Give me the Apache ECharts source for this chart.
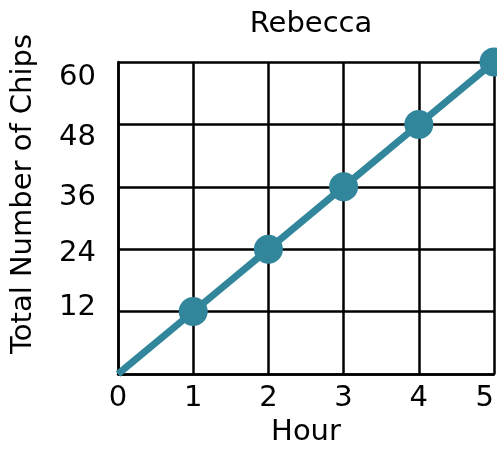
<!DOCTYPE html>
<html>
<head>
<meta charset="utf-8">
<script src="https://cdn.jsdelivr.net/npm/echarts@6/dist/echarts.min.js"></script>
<style>
  html, body { margin: 0; padding: 0; background: #fff; }
  #chart { width: 497px; height: 449px; }
</style>
</head>
<body>
<div id="chart"></div>
<script>
var hours = [0, 1, 2, 3, 4, 5];
var chips = [0, 12, 24, 36, 48, 60];
var yTicks = [12, 24, 36, 48, 60];

var myChart = echarts.init(document.getElementById('chart'));
var font = 'DejaVu Sans';

var points = hours.map(function (h, i) {
    return {
        value: [h, chips[i]],
        // no dot at the origin
        symbolSize: i === 0 ? 0 : 29
    };
});

// the y labels in the picture do not sit exactly on their grid lines
var yLabelShift = { 12: 'u4', 24: 'd4', 36: 'd11', 48: 'd13', 60: 'd15' };

function richPad(p) {
    return { fontFamily: font, fontSize: 29, color: '#000', padding: p };
}

var option = {
    animation: false,
    title: {
        text: 'Rebecca',
        left: 306,
        top: 5,
        textAlign: 'center',
        textStyle: { fontFamily: font, fontSize: 29, fontWeight: 'normal', color: '#000' }
    },
    grid: { left: 118, right: 3, top: 62, bottom: 75, outerBoundsMode: 'none' },
    xAxis: {
        type: 'value',
        min: 0,
        max: 5,
        interval: 1,
        name: 'Hour',
        nameLocation: 'middle',
        nameGap: 44,
        nameTextStyle: { fontFamily: font, fontSize: 29, color: '#000' },
        axisLine: { show: true, lineStyle: { color: '#000', width: 2.5 } },
        axisTick: { show: false },
        axisLabel: { fontFamily: font, fontSize: 29, color: '#000', margin: 10, alignMaxLabel: 'right' },
        splitLine: { show: true, lineStyle: { color: '#000', width: 2.5 } }
    },
    yAxis: {
        type: 'value',
        min: 0,
        max: 60,
        interval: 12,
        name: 'Total Number of Chips',
        nameLocation: 'middle',
        nameGap: 80,
        nameTextStyle: { fontFamily: font, fontSize: 29, color: '#000', padding: [0, 0, 0, 48] },
        axisLine: { show: true, lineStyle: { color: '#000', width: 2.5 } },
        axisTick: { show: false },
        axisLabel: {
            fontFamily: font, fontSize: 29, color: '#000', margin: 22,
            formatter: function (v) {
                if (yTicks.indexOf(v) < 0) return '';
                return '{' + yLabelShift[v] + '|' + v + '}';
            },
            rich: {
                u4: richPad([0, 0, 8, 0]),
                d4: richPad([8, 0, 0, 0]),
                d11: richPad([22, 0, 0, 0]),
                d13: richPad([26, 0, 0, 0]),
                d15: richPad([30, 0, 0, 0])
            }
        },
        splitLine: { show: true, lineStyle: { color: '#000', width: 2.5 } }
    },
    series: [{
        type: 'line',
        data: points,
        symbol: 'circle',
        showAllSymbol: true,
        lineStyle: { color: '#31869c', width: 7 },
        itemStyle: { color: '#31869c' },
        clip: false
    }]
};
myChart.setOption(option);
</script>
</body>
</html>
